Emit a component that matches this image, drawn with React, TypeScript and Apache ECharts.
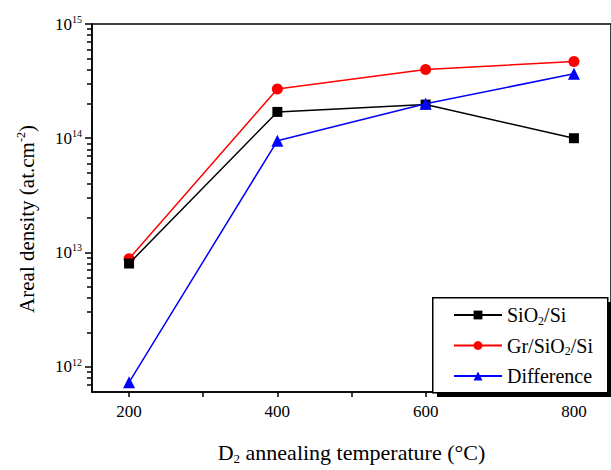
import React, { useEffect, useRef } from "react";
import * as echarts from "echarts";

const temperatures = [200, 400, 600, 800];
const sio2Si = [8.0e12, 1.7e14, 1.97e14, 1.0e14];
const grSio2Si = [8.8e12, 2.7e14, 4.0e14, 4.7e14];
const difference = [7.3e11, 9.5e13, 2.0e14, 3.67e14];

const xMajorTicks = [200, 300, 400, 500, 600, 700, 800];
const xLabels = [200, 400, 600, 800];
const yDecades = [1e12, 1e13, 1e14, 1e15];
const yMinor = [
  7e11, 8e11, 9e11,
  2e12, 3e12, 4e12, 5e12, 6e12, 7e12, 8e12, 9e12,
  2e13, 3e13, 4e13, 5e13, 6e13, 7e13, 8e13, 9e13,
  2e14, 3e14, 4e14, 5e14, 6e14, 7e14, 8e14, 9e14,
];

const FONT = "Liberation Serif";

export default function App() {
  const ref = useRef<HTMLDivElement>(null);
  useEffect(() => {
    document.body.style.margin = "0";
    const chart = echarts.init(ref.current!, null, { renderer: "svg" });
    const yMin = 6e11;
    const yMax = 1.0001e15;
    const pair = (vals: number[]) => temperatures.map((t, i) => [t, vals[i]]);
    const txt = (size: number) => ({ fontSize: size, fontFamily: FONT, color: "#000" });
    const option: any = {
      animation: false,
      backgroundColor: "#fff",
      textStyle: { fontFamily: FONT },
      grid: {
        left: 92,
        top: 24,
        right: -6,
        bottom: 68,
        show: true,
        borderColor: "#000",
        borderWidth: 1.5,
        backgroundColor: "transparent",
      },
      xAxis: [
        {
          type: "value",
          min: 150,
          max: 850,
          axisLine: { show: true, lineStyle: { color: "#000", width: 1.5 } },
          axisTick: {
            show: true,
            customValues: xMajorTicks,
            length: 5,
            lineStyle: { color: "#000", width: 1.5 },
          },
          axisLabel: {
            customValues: xLabels,
            ...txt(17),
            margin: 11,
          },
          splitLine: { show: false },
          name: "{n|D}{sub|2}{n| annealing temperature (°C)}",
          nameLocation: "middle",
          nameGap: 48,
          nameTextStyle: {
            ...txt(22),
            rich: {
              n: txt(22),
              sub: { ...txt(13), padding: [12, 0, 0, 0] },
            },
          },
        },
      ],
      yAxis: [
        {
          type: "log",
          logBase: 10,
          min: yMin,
          max: yMax,
          axisLine: { show: true, lineStyle: { color: "#000", width: 1.5 } },
          axisTick: {
            show: true,
            customValues: yDecades,
            length: 7,
            lineStyle: { color: "#000", width: 1.5 },
          },
          axisLabel: {
            customValues: yDecades,
            ...txt(17),
            margin: 10,
            showMaxLabel: true,
            showMinLabel: true,
            formatter: (v: number) => "{n|10}{sup|" + Math.round(Math.log10(v)) + "}",
            rich: {
              n: txt(17),
              sup: { ...txt(10), padding: [0, 0, 9, 0] },
            },
          },
          splitLine: { show: false },
          name: "{n|Areal density (at.cm}{sup|-2}{n|)}",
          nameLocation: "middle",
          nameGap: 54,
          nameRotate: 90,
          nameTextStyle: {
            ...txt(21),
            padding: [0, 22, 0, 0],
            rich: {
              n: txt(21),
              sup: { ...txt(12), padding: [0, 0, 11, 0] },
            },
          },
        },
        {
          type: "log",
          logBase: 10,
          min: yMin,
          max: yMax,
          position: "left",
          axisLine: { show: false },
          axisTick: {
            show: true,
            customValues: yMinor,
            length: 5,
            lineStyle: { color: "#000", width: 1.5 },
          },
          axisLabel: { show: false },
          splitLine: { show: false },
        },
      ],
      legend: {
        orient: "vertical",
        left: 453,
        top: 305,
        padding: 0,
        itemGap: 9,
        itemWidth: 48,
        itemHeight: 11,
        selectedMode: false,
        formatter: (name: string) =>
          name
            .split("O2")
            .map((p) => "{n|" + p + "}")
            .join("{n|O}{sub|2}"),
        textStyle: {
          ...txt(20),
          rich: {
            n: txt(20),
            sub: { ...txt(12), padding: [11, 0, 0, 0] },
          },
        },
        data: ["SiO2/Si", "Gr/SiO2/Si", "Difference"],
        z: 10,
      },
      graphic: [
        {
          type: "rect",
          left: 437,
          top: 302,
          shape: { width: 175, height: 95 },
          style: { fill: "#000" },
          z: 5,
          silent: true,
        },
        {
          type: "rect",
          left: 432,
          top: 297,
          shape: { width: 175, height: 95 },
          style: { fill: "#fff", stroke: "#000", lineWidth: 1.5 },
          z: 6,
          silent: true,
        },
      ],
      series: [
        {
          name: "SiO2/Si",
          type: "line",
          data: pair(sio2Si),
          symbol: "rect",
          symbolSize: 10,
          lineStyle: { color: "#000", width: 1.5 },
          itemStyle: { color: "#000" },
          z: 3,
        },
        {
          name: "Gr/SiO2/Si",
          type: "line",
          data: pair(grSio2Si),
          symbol: "circle",
          symbolSize: 11,
          lineStyle: { color: "#ff0000", width: 1.5 },
          itemStyle: { color: "#ff0000" },
          z: 2,
        },
        {
          name: "Difference",
          type: "line",
          data: pair(difference),
          symbol: "triangle",
          symbolSize: 12,
          lineStyle: { color: "#0000ff", width: 1.5 },
          itemStyle: { color: "#0000ff" },
          z: 4,
        },
      ],
    };
    chart.setOption(option);
    return () => chart.dispose();
  }, []);
  return <div ref={ref} style={{ width: 611, height: 470 }} />;
}
